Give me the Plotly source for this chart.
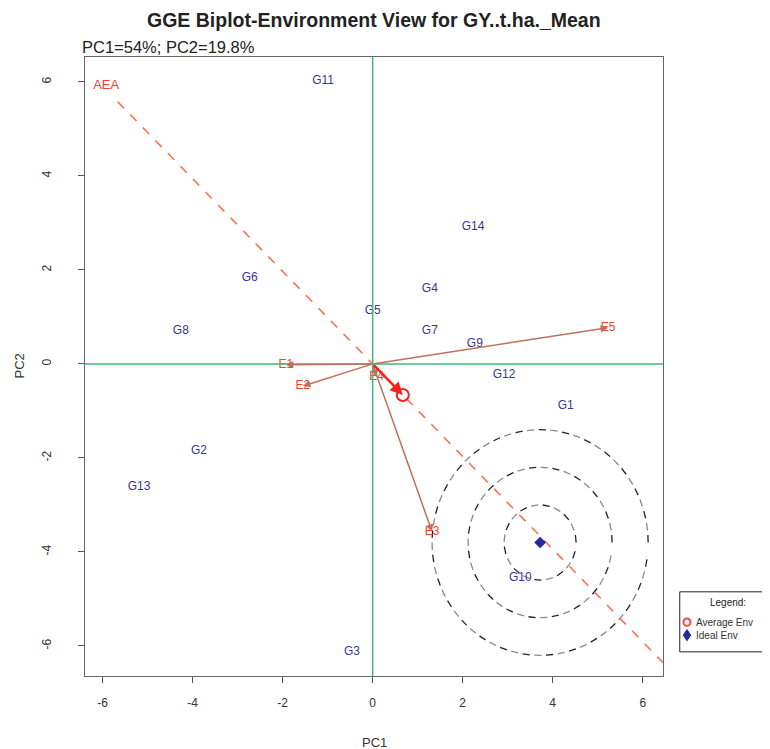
import numpy as np
import plotly.graph_objects as go

# ---------------- data ----------------
title = "GGE Biplot-Environment View for GY..t.ha._Mean"
subtitle = "PC1=54%; PC2=19.8%"

gen_names = ["G1", "G2", "G3", "G4", "G5", "G6", "G7", "G8", "G9", "G10", "G11", "G12", "G13", "G14"]
gen_pc1 = [4.29, -3.86, -0.46, 1.27, 0.0, -2.73, 1.27, -4.26, 2.27, 3.28, -1.10, 2.92, -5.19, 2.23]
gen_pc2 = [-0.89, -1.85, -6.13, 1.60, 1.13, 1.83, 0.70, 0.70, 0.43, -4.55, 6.02, -0.23, -2.62, 2.91]

env_names = ["E1", "E2", "E3", "E4", "E5"]
env_pc1 = [-1.93, -1.55, 1.32, 0.09, 5.23]
env_pc2 = [-0.02, -0.47, -3.57, -0.28, 0.77]

avg_env = [0.67, -0.66]
ideal_env = [3.72, -3.80]
circle_radii = [0.8, 1.6, 2.4]
aea_label_pos = [-5.92, 5.91]
aea_span = [-7.95, 9.8]

x_ticks = [-6, -4, -2, 0, 2, 4, 6]
y_ticks = [-6, -4, -2, 0, 2, 4, 6]
x_ticktext = ["-6", "-4", "-2", "0", "2", "4", "6"]
y_ticktext = ["-6", "-4", "-2", "0", "2", "4", "6"]
x_range = [-6.39, 6.45]
y_range = [-6.64, 6.53]

# ---------------- styles ----------------
GEN_COL = "#36369a"
ENV_COL = "#f2412e"
ARROW_COL = "#c0705a"
AXIS_GREEN = "#3cb878"
AEA_COL = "#ff6a48"
FONT = "Liberation Sans, Arial, sans-serif"

fig = go.Figure()

# concentric dashed circles around ideal environment (alternating black/grey dashes)
def dashed_circle(cx, cy, r, dash=0.16, gap=0.10):
    circ = 2 * np.pi * r
    step = dash + gap
    n = int(circ / step)
    blk_x, blk_y, gry_x, gry_y = [], [], [], []
    for k in range(n):
        a0 = k * step / r
        a1 = (k * step + dash) / r
        t = np.linspace(a0, a1, 6)
        xs = list(cx + r * np.cos(t)) + [None]
        ys = list(cy + r * np.sin(t)) + [None]
        if k % 2 == 0:
            blk_x += xs; blk_y += ys
        else:
            gry_x += xs; gry_y += ys
    return blk_x, blk_y, gry_x, gry_y

for r in circle_radii:
    bx, by, gx, gy = dashed_circle(ideal_env[0], ideal_env[1], r)
    fig.add_trace(go.Scatter(x=bx, y=by, mode="lines", line=dict(color="#222222", width=1.3),
                             hoverinfo="skip", showlegend=False))
    fig.add_trace(go.Scatter(x=gx, y=gy, mode="lines", line=dict(color="#8a8a8a", width=1.3),
                             hoverinfo="skip", showlegend=False))

# green axes through origin
fig.add_hline(y=0, line=dict(color=AXIS_GREEN, width=1.5))
fig.add_vline(x=0, line=dict(color=AXIS_GREEN, width=1.5))

# AEA line
norm = np.hypot(avg_env[0], avg_env[1])
ux, uy = avg_env[0] / norm, avg_env[1] / norm
fig.add_trace(go.Scatter(x=[aea_span[0] * ux, aea_span[1] * ux], y=[aea_span[0] * uy, aea_span[1] * uy],
                         mode="lines", line=dict(color=AEA_COL, width=1.5, dash="dash"),
                         hoverinfo="skip", showlegend=False))

# environment vectors
for name, ex, ey in zip(env_names, env_pc1, env_pc2):
    fig.add_annotation(x=ex, y=ey, ax=0, ay=0, axref="x", ayref="y", xref="x", yref="y",
                       showarrow=True, arrowhead=2, arrowsize=1, arrowwidth=1.5,
                       arrowcolor=ARROW_COL, text="")

# average environment arrow
fig.add_annotation(x=avg_env[0], y=avg_env[1], ax=0, ay=0, axref="x", ayref="y", xref="x", yref="y",
                   showarrow=True, arrowhead=2, arrowsize=1, arrowwidth=2.5,
                   arrowcolor="#ff1e1e", text="")

# genotype labels
fig.add_trace(go.Scatter(x=gen_pc1, y=gen_pc2, mode="text", text=gen_names,
                         textfont=dict(color=GEN_COL, size=12, family=FONT),
                         hoverinfo="text", showlegend=False))

# environment labels
fig.add_trace(go.Scatter(x=env_pc1, y=env_pc2, mode="text", text=env_names,
                         textfont=dict(color=ENV_COL, size=12, family=FONT),
                         hoverinfo="text", showlegend=False))

# AEA label
fig.add_trace(go.Scatter(x=[aea_label_pos[0]], y=[aea_label_pos[1]], mode="text", text=["AEA"],
                         textfont=dict(color=ENV_COL, size=13, family=FONT),
                         hoverinfo="skip", showlegend=False))

# average env marker
fig.add_trace(go.Scatter(x=[avg_env[0]], y=[avg_env[1]], mode="markers",
                         marker=dict(symbol="circle-open", size=12, color="#ff1e1e", line=dict(width=2)),
                         name="Average Env", showlegend=False))
# ideal env marker
fig.add_trace(go.Scatter(x=[ideal_env[0]], y=[ideal_env[1]], mode="markers",
                         marker=dict(symbol="diamond", size=9, color="#2828a0"),
                         name="Ideal Env", showlegend=False))

# manual legend box (outside plot, right)
fig.add_shape(type="rect", xref="paper", yref="paper", x0=1.029, x1=1.2, y0=0.039, y1=0.136,
              line=dict(color="#222222", width=1), fillcolor="white")
fig.add_annotation(xref="paper", yref="paper", x=1.112, y=0.118, text="Legend:", showarrow=False,
                   font=dict(size=10, color="#222222", family=FONT), xanchor="center", yanchor="middle")
fig.add_shape(type="circle", xref="paper", yref="paper", x0=1.0355, x1=1.0475, y0=0.081, y1=0.093,
              line=dict(color="#ff4a30", width=2))
fig.add_annotation(xref="paper", yref="paper", x=1.054, y=0.087, text="Average Env", showarrow=False,
                   font=dict(size=10, color="#333333", family=FONT), xanchor="left", yanchor="middle")
fig.add_shape(type="path", xref="paper", yref="paper",
              path="M 1.0415 0.075 L 1.048 0.066 L 1.0415 0.057 L 1.035 0.066 Z",
              line=dict(color="#2828a0", width=1), fillcolor="#2828a0")
fig.add_annotation(xref="paper", yref="paper", x=1.054, y=0.066, text="Ideal Env", showarrow=False,
                   font=dict(size=10, color="#333333", family=FONT), xanchor="left", yanchor="middle")

# titles
fig.add_annotation(xref="paper", yref="paper", x=0.5, y=1.0, yshift=37, text="<b>" + title + "</b>",
                   showarrow=False, font=dict(size=19.5, color="#222222", family=FONT),
                   xanchor="center", yanchor="middle")
fig.add_annotation(xref="paper", yref="paper", x=-0.008, y=1.0, yshift=10, text=subtitle,
                   showarrow=False, font=dict(size=16.5, color="#222222", family=FONT),
                   xanchor="left", yanchor="middle")

# axis titles
fig.add_annotation(xref="paper", yref="paper", x=0.5, y=0.0, yshift=-66, text="PC1",
                   showarrow=False, font=dict(size=13, color="#333333", family=FONT),
                   xanchor="center", yanchor="middle")
fig.add_annotation(xref="paper", yref="paper", x=0.0, y=0.5, xshift=-66, text="PC2", textangle=-90,
                   showarrow=False, font=dict(size=13, color="#333333", family=FONT),
                   xanchor="center", yanchor="middle")

axis_common = dict(showgrid=False, zeroline=False, showline=True, mirror=True, automargin=False,
                   linecolor="#666666", linewidth=1.2, ticks="outside", ticklen=6,
                   tickcolor="#555555", tickfont=dict(size=12, color="#333333", family=FONT))

fig.update_layout(
    width=770, height=749,
    margin=dict(l=77, r=115, t=49, b=81),
    paper_bgcolor="white", plot_bgcolor="white",
    font=dict(family=FONT),
    xaxis=dict(range=x_range, tickvals=x_ticks, ticktext=x_ticktext, ticklabelstandoff=9, **axis_common),
    yaxis=dict(range=y_range, tickvals=y_ticks, ticktext=y_ticktext, tickangle=-90,
               ticklabelstandoff=22, **axis_common),
    showlegend=False,
)

fig.write_html("out.html")
